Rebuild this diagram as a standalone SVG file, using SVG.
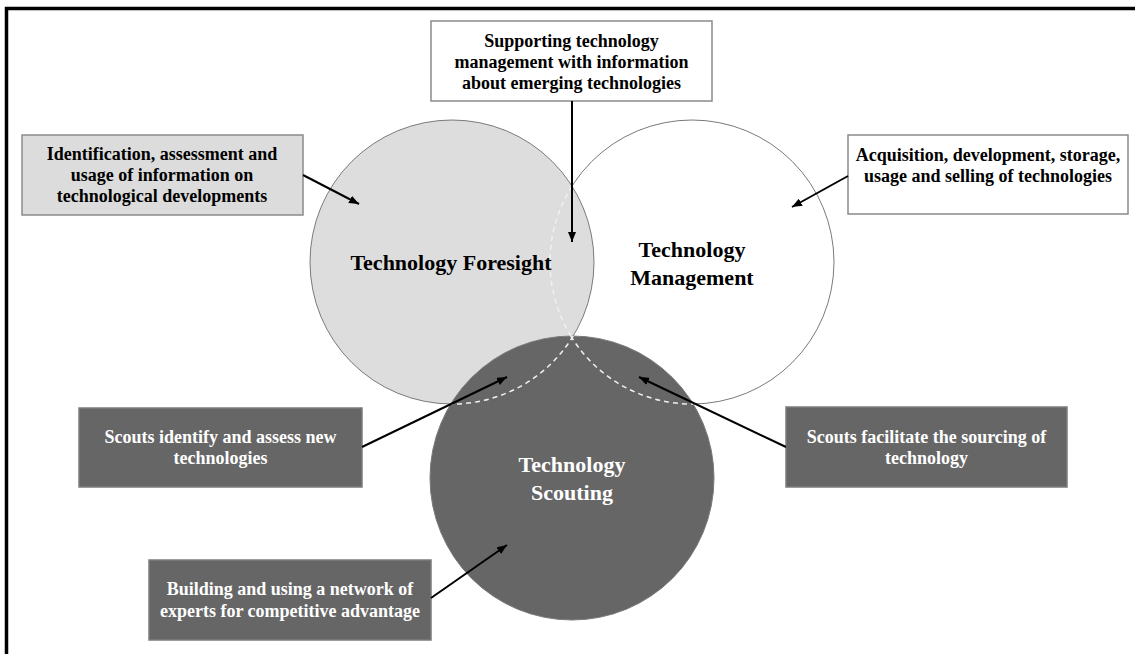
<svg xmlns="http://www.w3.org/2000/svg" width="1135" height="654" viewBox="0 0 1135 654">
  <style>
    .lbl { font-family: "Liberation Serif", "Times New Roman", serif; font-weight: bold; font-size: 18px; text-anchor: middle; }
    .big { font-family: "Liberation Serif", "Times New Roman", serif; font-weight: bold; font-size: 22px; text-anchor: middle; }
    .dark { fill: #ffffff; }
    .ink { fill: #000000; }
    .boxw { fill: #ffffff; stroke: #8a8a8a; stroke-width: 1.5; }
    .boxl { fill: #dcdcdc; stroke: #8a8a8a; stroke-width: 1.5; }
    .boxd { fill: #666666; stroke: #7c7c7c; stroke-width: 1.5; }
    .circ { stroke: #7a7a7a; stroke-width: 1; }
    .dash { fill: none; stroke: #f0f0f0; stroke-width: 1.5; stroke-dasharray: 5 4; }
    .conn { fill: none; stroke: #000000; stroke-width: 2; }
  </style>
  <defs>
    <marker id="arrow" viewBox="0 0 10 8" refX="10" refY="4" markerWidth="10" markerHeight="8" markerUnits="userSpaceOnUse" orient="auto">
      <path d="M0,0 L10,4 L0,8 z" fill="#000000"/>
    </marker>
  </defs>
  <rect x="0" y="0" width="1135" height="654" fill="#ffffff"/>
  <path d="M6.5,654 V8.5 H1135" fill="none" stroke="#000000" stroke-width="3.5"/>

  <g id="circle-management">
    <circle class="circ" cx="692" cy="262" r="142" fill="#ffffff"/>
  </g>
  <g id="circle-foresight">
    <circle class="circ" cx="452" cy="262" r="142" fill="#dddddd"/>
  </g>
  <g id="circle-scouting">
    <circle class="circ" cx="572" cy="478" r="142" fill="#666666"/>
  </g>
  <g id="hidden-outlines">
    <path class="dash" d="M572,186.1 A142,142 0 0 0 572,337.9"/>
    <path class="dash" d="M573.2,336 A142,142 0 0 1 450.8,404"/>
    <path class="dash" d="M570.8,336 A142,142 0 0 0 693.2,404"/>
  </g>
  <g id="label-foresight">
    <text class="big ink" x="451" y="270">Technology Foresight</text>
  </g>
  <g id="label-management">
    <text class="big ink" x="692" y="257">Technology</text>
    <text class="big ink" x="692" y="285">Management</text>
  </g>
  <g id="label-scouting">
    <text class="big dark" x="572" y="472">Technology</text>
    <text class="big dark" x="572" y="500">Scouting</text>
  </g>

  <g id="box-supporting">
    <rect class="boxw" x="431" y="21" width="281" height="80"/>
    <text class="lbl ink" x="571.5" y="47">Supporting technology</text>
    <text class="lbl ink" x="571.5" y="68">management with information</text>
    <text class="lbl ink" x="571.5" y="89">about emerging technologies</text>
  </g>
  <g id="box-identification">
    <rect class="boxl" x="22" y="135" width="281" height="80"/>
    <text class="lbl ink" x="162" y="159.5">Identification, assessment and</text>
    <text class="lbl ink" x="162" y="180.5">usage of information on</text>
    <text class="lbl ink" x="162" y="201.5">technological developments</text>
  </g>
  <g id="box-acquisition">
    <rect class="boxw" x="848" y="135" width="280" height="79"/>
    <text class="lbl ink" x="988" y="161">Acquisition, development, storage,</text>
    <text class="lbl ink" x="988" y="182">usage and selling of technologies</text>
  </g>
  <g id="box-identify">
    <rect class="boxd" x="79" y="408" width="283" height="79"/>
    <text class="lbl dark" x="220.5" y="443">Scouts identify and assess new</text>
    <text class="lbl dark" x="220.5" y="464">technologies</text>
  </g>
  <g id="box-facilitate">
    <rect class="boxd" x="786" y="407" width="281" height="80"/>
    <text class="lbl dark" x="926.5" y="442.5">Scouts facilitate the sourcing of</text>
    <text class="lbl dark" x="926.5" y="463.5">technology</text>
  </g>
  <g id="box-network">
    <rect class="boxd" x="149" y="560" width="282" height="80"/>
    <text class="lbl dark" x="290" y="595">Building and using a network of</text>
    <text class="lbl dark" x="290" y="617">experts for competitive advantage</text>
  </g>

  <g id="connectors">
    <line class="conn" x1="572" y1="101" x2="572" y2="242" marker-end="url(#arrow)"/>
    <line class="conn" x1="303" y1="175" x2="359" y2="204" marker-end="url(#arrow)"/>
    <line class="conn" x1="848" y1="176" x2="792" y2="207" marker-end="url(#arrow)"/>
    <line class="conn" x1="362" y1="447" x2="507" y2="377" marker-end="url(#arrow)"/>
    <line class="conn" x1="786" y1="447" x2="639" y2="377" marker-end="url(#arrow)"/>
    <line class="conn" x1="431" y1="598" x2="507" y2="545" marker-end="url(#arrow)"/>
  </g>
</svg>
